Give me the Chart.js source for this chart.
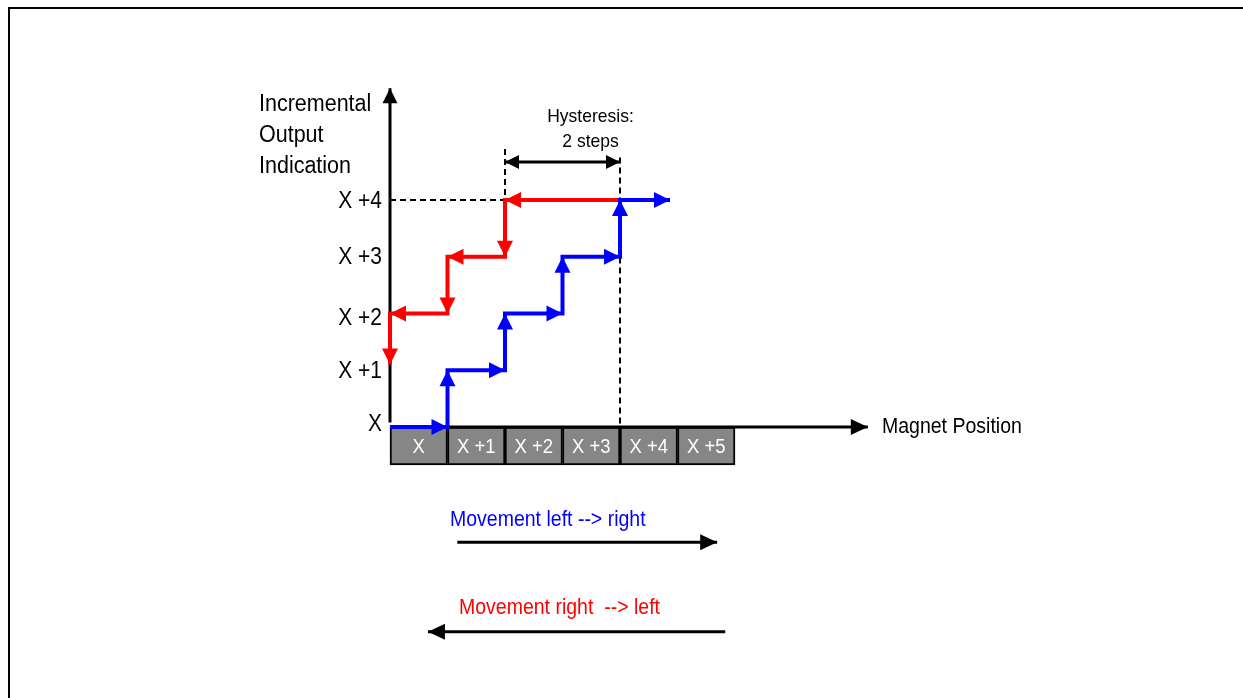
<!DOCTYPE html>
<html>
<head>
<meta charset="utf-8">
<title>Hysteresis</title>
<script src="https://cdn.jsdelivr.net/npm/chart.js@4"></script>
<style>
  body { margin: 0; background: #fff; }
  canvas { display: block; }
</style>
</head>
<body>
<canvas id="chart" width="1243" height="698"></canvas>
<script>
// output levels (y) and magnet cells (x)
var levelLabels = ['X', 'X +1', 'X +2', 'X +3', 'X +4'];
var levelValues = [0, 1, 2, 3, 4];
var cellLabels = ['X', 'X +1', 'X +2', 'X +3', 'X +4', 'X +5'];
var cellCenters = [0.5, 1.5, 2.5, 3.5, 4.5, 5.5];

// left -> right path (blue)
var upX = [0, 1, 1, 2, 2, 3, 3, 4, 4, 4.87];
var upY = [0, 0, 1, 1, 2, 2, 3, 3, 4, 4];
// right -> left path (red)
var downX = [4, 2, 2, 1, 1, 0, 0];
var downY = [4, 4, 3, 3, 2, 2, 1.1];

var hysteresisFrom = 2;
var hysteresisTo = 4;

var FONT = '"Liberation Sans", Arial, sans-serif';

function pts(xs, ys) {
    var out = [];
    for (var i = 0; i < xs.length; i++) {
        out.push({x: xs[i], y: ys[i]});
    }
    return out;
}

function lineSet(data, color, width, heads, dash) {
    return {
        type: 'line',
        data: data,
        borderColor: color,
        backgroundColor: color,
        borderWidth: width,
        borderDash: dash || [],
        borderJoinStyle: 'miter',
        borderCapStyle: 'butt',
        pointRadius: 0,
        tension: 0,
        spanGaps: false,
        clip: false,
        heads: heads
    };
}

function head(ctx, x, y, ang, len, half, color) {
    ctx.save();
    ctx.translate(x, y);
    ctx.rotate(ang);
    ctx.beginPath();
    ctx.moveTo(0, 0);
    ctx.lineTo(-len, -half);
    ctx.lineTo(-len, half);
    ctx.closePath();
    ctx.fillStyle = color;
    ctx.fill();
    ctx.restore();
}

// the source figure is a little stretched vertically, so the glyphs are too
function text(ctx, str, x, y, size, color, align) {
    ctx.save();
    ctx.translate(x, y);
    ctx.scale(1, 1.1);
    ctx.font = size + 'px ' + FONT;
    ctx.fillStyle = color;
    ctx.textAlign = align || 'left';
    ctx.textBaseline = 'middle';
    ctx.fillText(str, 0, 0);
    ctx.restore();
}

var arrows = {
    id: 'arrows',
    afterDatasetDraw: function (chart, args) {
        var ds = chart.data.datasets[args.index];
        if (!ds.heads) return;
        var ctx = chart.ctx;
        var p = args.meta.data;
        var h = ds.heads;
        function at(a, b) {
            if (!a || !b || a.skip || b.skip) return;
            head(ctx, b.x, b.y, Math.atan2(b.y - a.y, b.x - a.x), h.len, h.half, ds.borderColor);
        }
        if (h.mode === 'each') {
            for (var i = 1; i < p.length; i++) at(p[i - 1], p[i]);
        } else {
            at(p[p.length - 2], p[p.length - 1]);
            if (h.mode === 'both') at(p[1], p[0]);
        }
    }
};

var labels = {
    id: 'labels',
    afterDraw: function (chart) {
        var ctx = chart.ctx;
        var sx = chart.scales.x;
        var sy = chart.scales.y;

        // outer frame
        ctx.save();
        ctx.strokeStyle = '#000';
        ctx.lineWidth = 2;
        ctx.strokeRect(9, 8, 1300, 800);
        ctx.restore();

        // y tick labels
        var nudge = [-2, 1, 5, 1, 2];
        for (var i = 0; i < levelLabels.length; i++) {
            text(ctx, levelLabels[i], sx.getPixelForValue(0) - 8, sy.getPixelForValue(levelValues[i]) + nudge[i], 21, '#000', 'right');
        }

        // cell labels
        var bars = chart.getDatasetMeta(chart.data.datasets.length - 1).data;
        for (var j = 0; j < bars.length; j++) {
            var b = bars[j].getProps(['x', 'y', 'base'], true);
            text(ctx, cellLabels[j], b.x, (b.y + b.base) / 2 + 1, 18.5, '#fff', 'center');
        }

        // axis titles
        text(ctx, 'Incremental', 259, 104, 21.5, '#000');
        text(ctx, 'Output', 259, 135, 21.5, '#000');
        text(ctx, 'Indication', 259, 166, 21.5, '#000');
        text(ctx, 'Magnet Position', 882, sy.getPixelForValue(0), 19.5, '#000');

        var hx = (sx.getPixelForValue(hysteresisFrom) + sx.getPixelForValue(hysteresisTo)) / 2 + 28;
        text(ctx, 'Hysteresis:', hx, 117, 17.5, '#000', 'center');
        text(ctx, '2 steps', hx, 142, 17.5, '#000', 'center');

        text(ctx, 'Movement left --> right', 450, 520, 19.5, '#0000ff');
        text(ctx, 'Movement right  --> left', 459, 608, 19.5, '#ff0000');
    }
};

var bigHead = {mode: 'end', len: 17, half: 8};

var datasets = [
    lineSet(pts(upX, upY), '#0000ff', 4, {mode: 'each', len: 16, half: 8}),
    lineSet(pts(downX, downY), '#ff0000', 4, {mode: 'each', len: 16, half: 8}),
    // hysteresis width
    lineSet([{x: hysteresisFrom, y: 4.67}, {x: hysteresisTo, y: 4.67}], '#000', 3, {mode: 'both', len: 14, half: 7}),
    // dashed guides
    lineSet([{x: 0, y: 4}, {x: hysteresisFrom, y: 4}, {x: hysteresisFrom, y: 4.97}], '#000', 2, null, [6, 4]),
    lineSet([{x: hysteresisTo, y: 0.06}, {x: hysteresisTo, y: 4.79}], '#000', 2, null, [6, 4]),
    // axes
    lineSet([{x: 0, y: 0.08}, {x: 0, y: 5.97}], '#000', 3, {mode: 'end', len: 15, half: 7.5}),
    lineSet([{x: 0, y: 0}, {x: 8.31, y: 0}], '#000', 3, bigHead),
    // movement arrows
    lineSet([{x: 1.17, y: -2.03}, {x: 5.69, y: -2.03}], '#000', 3, bigHead),
    lineSet([{x: 5.83, y: -3.61}, {x: 0.66, y: -3.61}], '#000', 3, bigHead),
    // magnet cells
    {
        type: 'bar',
        data: cellCenters.map(function (c) { return {x: c, y: [-0.67, 0]}; }),
        backgroundColor: '#868686',
        borderColor: '#000',
        borderWidth: 2,
        borderSkipped: false,
        barPercentage: 1,
        categoryPercentage: 1,
        clip: false
    }
];

var chart = new Chart(document.getElementById('chart'), {
    type: 'line',
    data: {datasets: datasets},
    options: {
        responsive: false,
        animation: false,
        layout: {padding: {left: 390, right: 508, top: 200, bottom: 271}},
        plugins: {legend: {display: false}, tooltip: {enabled: false}},
        scales: {
            x: {type: 'linear', min: 0, max: 6, offset: false, display: false},
            y: {type: 'linear', min: 0, max: 4, display: false}
        }
    },
    plugins: [arrows, labels]
});
</script>
</body>
</html>
